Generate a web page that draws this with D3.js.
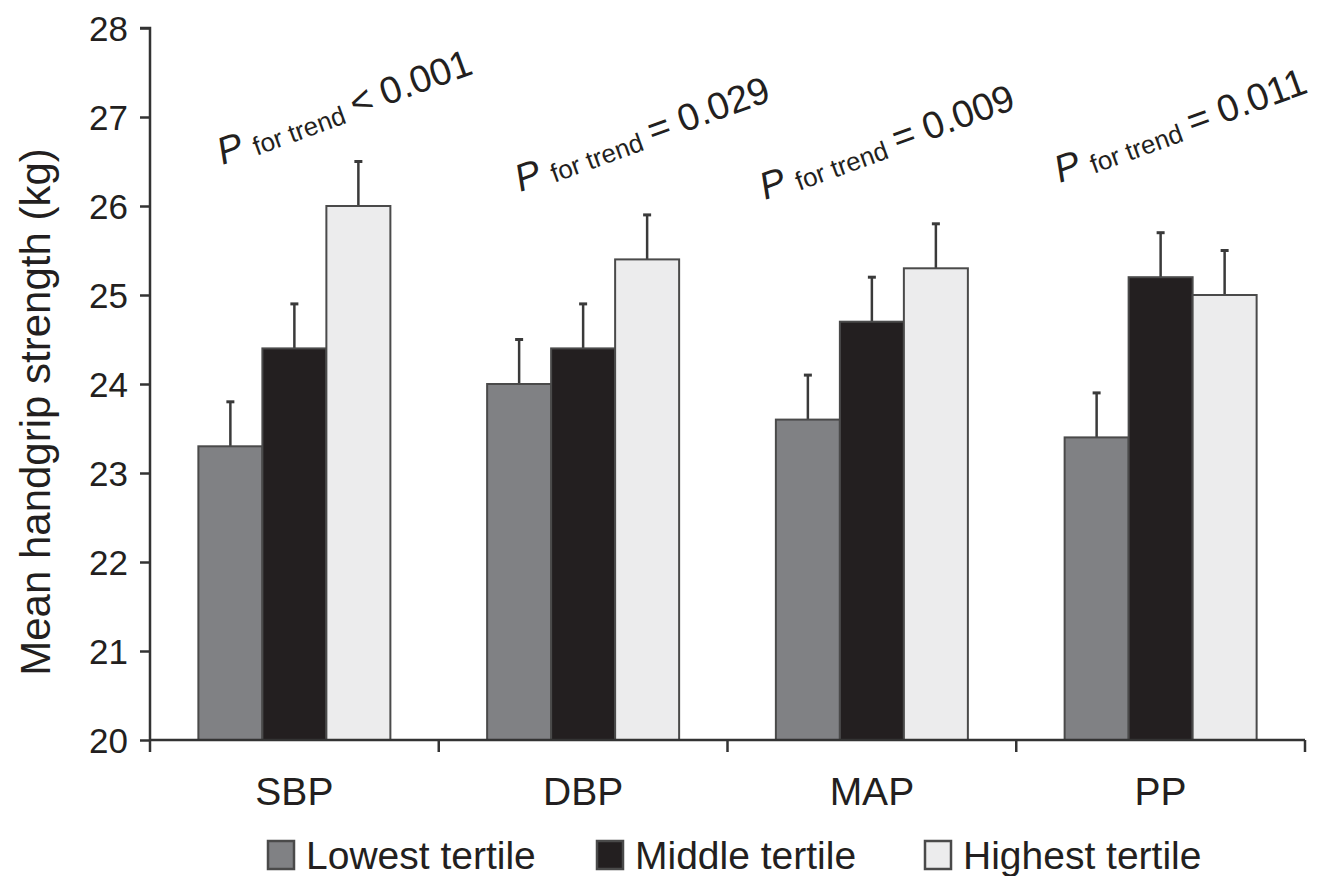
<!DOCTYPE html>
<html><head><meta charset="utf-8">
<script src="https://cdn.jsdelivr.net/npm/d3@7/dist/d3.min.js"></script>
<style>body{margin:0;background:#fff}text{font-family:"Liberation Sans",Arial,sans-serif;fill:#231f20}</style>
</head><body><svg id="c" width="1326" height="876"></svg>
<script>
const categories = ["SBP","DBP","MAP","PP"];
const tertiles = ["Lowest tertile","Middle tertile","Highest tertile"];
const lowest  = [23.3, 24.0, 23.6, 23.4];
const middle  = [24.4, 24.4, 24.7, 25.2];
const highest = [26.0, 25.4, 25.3, 25.0];
const errLowest  = [0.5, 0.5, 0.5, 0.5];
const errMiddle  = [0.5, 0.5, 0.5, 0.5];
const errHighest = [0.5, 0.5, 0.5, 0.5];
const pOps = ["<","=","=","="];
const pVals = ["0.001","0.029","0.009","0.011"];
const yTicks = [20,21,22,23,24,25,26,27,28];

const colors = ["#808184","#231f20","#ececed"];
const svg = d3.select("#c");
const L=150, R=1305, T=28, B=740;
const x = d3.scaleBand().domain(categories).range([L,R]);
const xi = d3.scaleBand().domain(tertiles).range([0,192]);
const y = d3.scaleLinear().domain([20,28]).range([B,T]);

const series = [lowest,middle,highest];
const errs = [errLowest,errMiddle,errHighest];
const rows = [];
categories.forEach((c,ci)=>tertiles.forEach((t,ti)=>rows.push({c,t,ti,v:series[ti][ci],e:errs[ti][ci]})));

const off = (x.bandwidth()-192)/2;
const cx = d=>x(d.c)+off+xi(d.t)+xi.bandwidth()/2;
const g = svg.append("g");
g.selectAll("line.err").data(rows).join("line")
 .attr("x1",cx).attr("x2",cx)
 .attr("y1",d=>y(d.v)).attr("y2",d=>y(d.v+d.e)).attr("stroke","#3a3a3a").attr("stroke-width",2.5);
g.selectAll("line.cap").data(rows).join("line")
 .attr("x1",d=>cx(d)-4).attr("x2",d=>cx(d)+4)
 .attr("y1",d=>y(d.v+d.e)).attr("y2",d=>y(d.v+d.e)).attr("stroke","#3a3a3a").attr("stroke-width",3);
g.selectAll("rect.bar").data(rows).join("rect")
 .attr("x",d=>x(d.c)+off+xi(d.t)).attr("width",xi.bandwidth())
 .attr("y",d=>y(d.v)).attr("height",d=>y(20)-y(d.v))
 .attr("fill",d=>colors[d.ti]).attr("stroke","#4a4a4a").attr("stroke-width",2);

// y axis
const ya = svg.append("g").attr("transform",`translate(${L},0)`)
 .call(d3.axisLeft(y).tickValues(yTicks).tickSize(10).tickPadding(12).tickFormat(d3.format("d")));
ya.select(".domain").attr("stroke","#333").attr("stroke-width",2.5).attr("d",`M-10,${T}H0V${B}`);
ya.selectAll(".tick line").attr("stroke","#333").attr("stroke-width",2.5);
ya.selectAll(".tick text").attr("font-size",35).attr("fill","#231f20").attr("dy","0.36em");

// x axis
const xa = svg.append("g").attr("transform",`translate(0,${B})`)
 .call(d3.axisBottom(x).tickSize(0).tickPadding(0));
xa.select(".domain").attr("stroke","#333").attr("stroke-width",2.5).attr("d",`M${L},0H${R}`);
xa.selectAll(".tick text").attr("font-size",39).attr("fill","#231f20").attr("dy",null).attr("y",65);
svg.append("g").selectAll("line").data(categories.map(c=>x(c)).concat([R])).join("line")
 .attr("x1",d=>d).attr("x2",d=>d).attr("y1",B).attr("y2",B+12).attr("stroke","#333").attr("stroke-width",2.5);

// y title
svg.append("text").attr("transform","translate(50,412) rotate(-90)").attr("text-anchor","middle")
 .attr("font-size",42).text("Mean handgrip strength (kg)");

// P labels
const pOff = [[-72,165],[-63,192],[-107,200],[-101,183]];
categories.forEach((c,i)=>{
  const px = x(c)+x.bandwidth()/2+pOff[i][0];
  const t = svg.append("text").attr("transform",`translate(${px},${pOff[i][1]}) rotate(-20)`).attr("font-size",38);
  t.append("tspan").attr("font-style","italic").text("P");
  t.append("tspan").attr("font-size",26).attr("dx",10).attr("dy",3).text("for trend");
  t.append("tspan").attr("dx",9).attr("dy",-3).text(pOps[i]);
  t.append("tspan").attr("dx",10).text(pVals[i]);
});

// legend
const lx = [268,597,925];
const lg = svg.append("g");
tertiles.forEach((t,i)=>{
  lg.append("rect").attr("x",lx[i]).attr("y",841).attr("width",26).attr("height",28)
    .attr("fill",colors[i]).attr("stroke","#4a4a4a").attr("stroke-width",2.5);
  lg.append("text").attr("x",lx[i]+38).attr("y",869).attr("font-size",39).text(t);
});
</script></body></html>
